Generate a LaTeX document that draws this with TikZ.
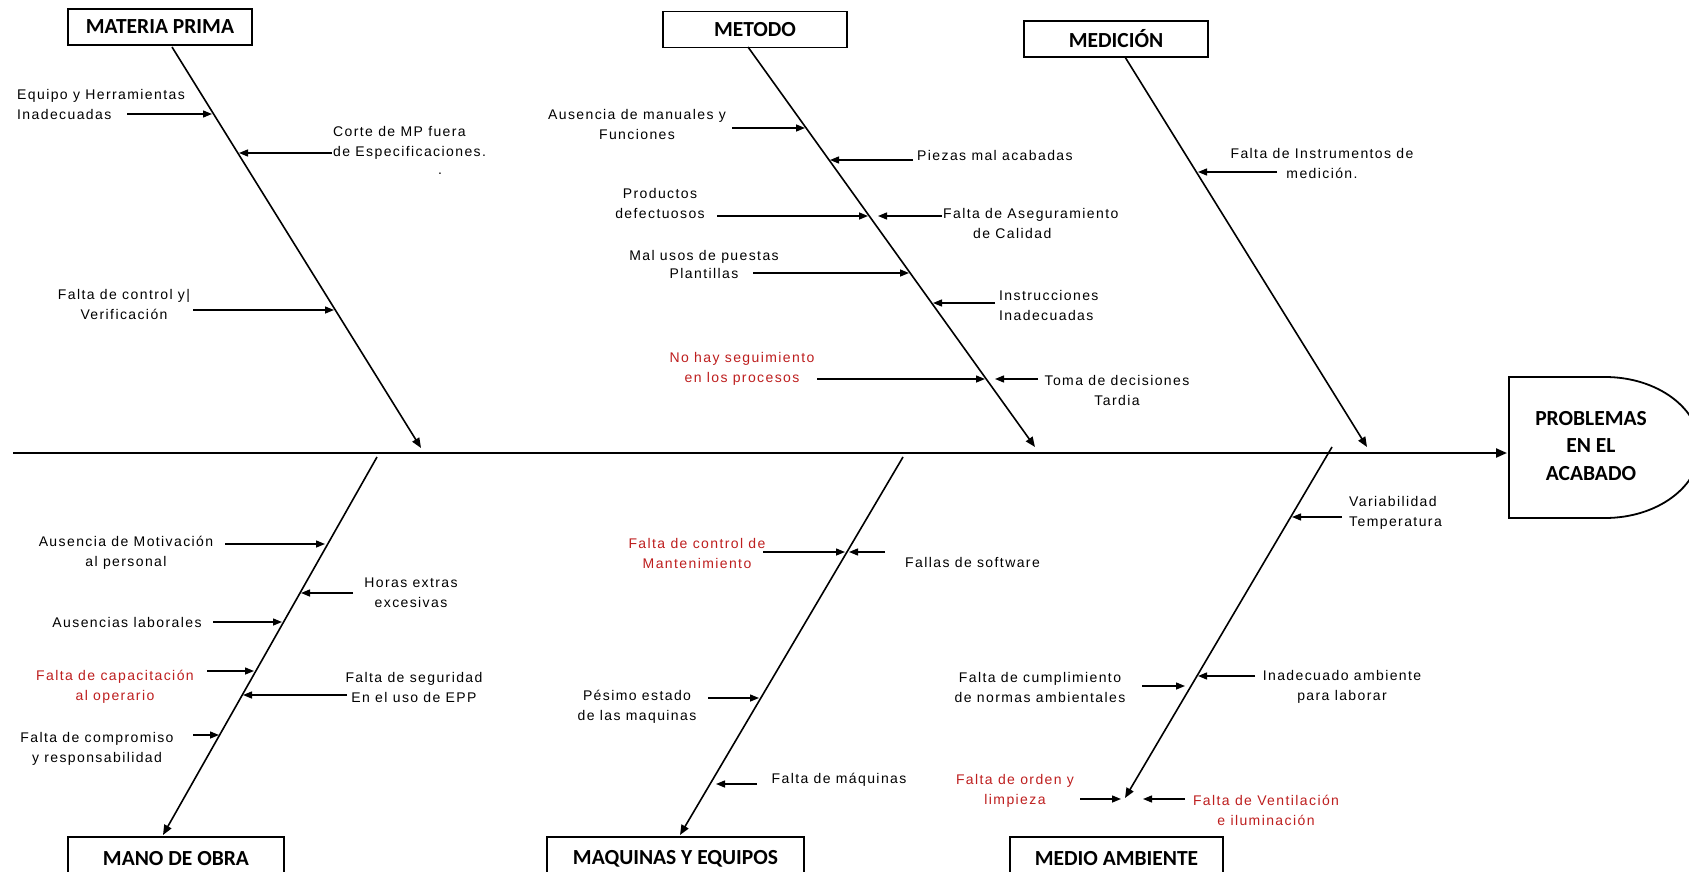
\documentclass[tikz,border=0pt]{standalone}
\usepackage{fontspec}
\usetikzlibrary{arrows.meta}
\newfontfamily\lblfont[LetterSpace=10]{Liberation Sans}
\newfontfamily\ttlfont{Carlito}
\definecolor{causered}{RGB}{190,30,30}
\begin{document}
\begin{tikzpicture}[x=1pt,y=-1pt,
  lbl/.style={font=\lblfont\fontsize{14}{20}\selectfont, inner sep=0pt, align=center},
  redlbl/.style={lbl, text=causered},
  cat/.style={draw, line width=1.8pt, font=\ttlfont\bfseries\fontsize{21.5}{26}\selectfont,
              minimum width=184pt, minimum height=36pt, inner sep=0pt},
  catlow/.style={cat, minimum height=43pt},
  bone/.style={line width=1.6pt, -{Triangle[length=10pt,width=8pt]}},
  cause/.style={line width=1.4pt, -{Triangle[length=9pt,width=7pt]}},
  spine/.style={line width=2.2pt, -{Triangle[length=11pt,width=9pt]}}]
\useasboundingbox[fill=white] (0,0) rectangle (1689,872);

% ---------- effect ----------
\draw[line width=1.8pt] (1509,377) -- (1605,377)
  arc[start angle=90,end angle=-90,x radius=95pt,y radius=70.5pt] -- (1509,518) -- cycle;
\node[font=\ttlfont\bfseries\fontsize{21.5}{27.5}\selectfont, align=center, inner sep=0pt]
  (eff) at (1591,446) {PROBLEMAS\\EN EL\\ACABADO};
\coordinate (sp0) at (13,453);
\coordinate (sp1) at (1507,453);
\draw[spine] (sp0) -- (sp1);

% ---------- category boxes ----------
\node[cat] (mp)  at (160,27)   {MATERIA PRIMA};
\node[cat] (met) at (755,29.5) {METODO};
\node[cat] (med) at (1116,39)  {MEDICIÓN};
\node[catlow, minimum width=216pt] (mo)  at (176,858.5)    {MANO DE OBRA};
\node[catlow, minimum width=257pt] (maq) at (675.5,858.5)  {MAQUINAS Y EQUIPOS};
\node[catlow, minimum width=213pt] (ma)  at (1116.5,858.5) {MEDIO AMBIENTE};

% ---------- bones ----------
\coordinate (mpA) at (172,47);   \coordinate (mpZ) at (421,448);
\coordinate (meA) at (748,47);   \coordinate (meZ) at (1035,447);
\coordinate (mdA) at (1125,57);  \coordinate (mdZ) at (1367,447);
\coordinate (moA) at (377,457);  \coordinate (moZ) at (163,835);
\coordinate (mqA) at (903,457);  \coordinate (mqZ) at (680,835);
\coordinate (maA) at (1332,447); \coordinate (maZ) at (1125,798);
\draw[bone] (mpA) -- (mpZ);
\draw[bone] (meA) -- (meZ);
\draw[bone] (mdA) -- (mdZ);
\draw[bone] (moA) -- (moZ);
\draw[bone] (mqA) -- (mqZ);
\draw[bone] (maA) -- (maZ);

% ---------- MATERIA PRIMA ----------
\node[lbl, align=left, anchor=west] (c11) at (17,104) {Equipo y Herramientas\\Inadecuadas};
\node[lbl, align=left, anchor=west] (c12) at (333,143) {Corte de MP fuera\\de Especificaciones.};
\node[lbl, anchor=base] (c12d) at (440,175) {.};
\node[lbl] (c13) at (124,304) {Falta de control y|\\Verificación};
\coordinate (c11s) at (127,114); \coordinate (c11e) at (212,114);
\coordinate (c12s) at (332,153); \coordinate (c12e) at (239,153);
\coordinate (c13s) at (193,310); \coordinate (c13e) at (334,310);
\draw[cause] (c11s) -- (c11e);
\draw[cause] (c12s) -- (c12e);
\draw[cause] (c13s) -- (c13e);

% ---------- METODO ----------
\node[lbl] (c21) at (637,124) {Ausencia de manuales y\\Funciones};
\node[lbl, anchor=west] (c22) at (917,155) {Piezas mal acabadas};
\node[lbl] (c23) at (660,203) {Productos\\defectuosos};
\node[lbl, align=left, anchor=west] (c24) at (943,223) {Falta de Aseguramiento\\\hspace*{30pt}de Calidad};
\node[lbl] (c25) at (704,264) {Mal usos de puestas\\[-2pt]Plantillas};
\node[lbl, align=left, anchor=west] (c26) at (999,305) {Instrucciones\\Inadecuadas};
\node[redlbl] (c27) at (742,369) {No hay seguimiento\\en los procesos};
\node[lbl] (c28) at (1117,390) {Toma de decisiones\\Tardia};
\coordinate (c21s) at (732,128);  \coordinate (c21e) at (805,128);
\coordinate (c22s) at (913,160);  \coordinate (c22e) at (830,160);
\coordinate (c23s) at (717,216);  \coordinate (c23e) at (868,216);
\coordinate (c24s) at (942,216);  \coordinate (c24e) at (878,216);
\coordinate (c25s) at (753,273);  \coordinate (c25e) at (909,273);
\coordinate (c26s) at (995,303);  \coordinate (c26e) at (933,303);
\coordinate (c27s) at (817,379);  \coordinate (c27e) at (985,379);
\coordinate (c28s) at (1038,379); \coordinate (c28e) at (995,379);
\foreach \c in {c21,c22,c23,c24,c25,c26,c27,c28}
  \draw[cause] (\c s) -- (\c e);

% ---------- MEDICION ----------
\node[lbl] (c31) at (1322,163) {Falta de Instrumentos de\\medición.};
\coordinate (c31s) at (1277,172); \coordinate (c31e) at (1198,172);
\draw[cause] (c31s) -- (c31e);

% ---------- MANO DE OBRA ----------
\node[lbl] (c41) at (126,553) {Ausencia de Motivación\\al personal};
\node[lbl] (c42) at (411,593) {Horas extras\\excesivas};
\node[lbl] (c43) at (127,622) {Ausencias laborales};
\node[redlbl] (c44) at (115,687) {Falta de capacitación\\al operario};
\node[lbl] (c45) at (414,687) {Falta de seguridad\\En el uso de EPP};
\node[lbl] (c46) at (97,749) {Falta de compromiso\\y responsabilidad};
\coordinate (c41s) at (225,544); \coordinate (c41e) at (325,544);
\coordinate (c42s) at (353,593); \coordinate (c42e) at (301,593);
\coordinate (c43s) at (213,622); \coordinate (c43e) at (282,622);
\coordinate (c44s) at (207,671); \coordinate (c44e) at (254,671);
\coordinate (c45s) at (347,695); \coordinate (c45e) at (243,695);
\coordinate (c46s) at (193,735); \coordinate (c46e) at (219,735);
\foreach \c in {c41,c42,c43,c44,c45,c46}
  \draw[cause] (\c s) -- (\c e);

% ---------- MAQUINAS Y EQUIPOS ----------
\node[redlbl] (c51) at (697,553) {Falta de control de\\Mantenimiento};
\node[lbl, anchor=west] (c52) at (905,562) {Fallas de software};
\node[lbl] (c53) at (637,707) {Pésimo estado\\de las maquinas};
\node[lbl] (c54) at (839,780) {Falta de máquinas};
\coordinate (c51s) at (763,552); \coordinate (c51e) at (845,552);
\coordinate (c52s) at (885,552); \coordinate (c52e) at (849,552);
\coordinate (c53s) at (708,698); \coordinate (c53e) at (759,698);
\coordinate (c54s) at (757,784); \coordinate (c54e) at (716,784);
\foreach \c in {c51,c52,c53,c54}
  \draw[cause] (\c s) -- (\c e);

% ---------- MEDIO AMBIENTE ----------
\node[lbl, align=left, anchor=west] (c61) at (1349,513) {Variabilidad\\Temperatura};
\node[lbl] (c62) at (1040,687) {Falta de cumplimiento\\de normas ambientales};
\node[lbl] (c63) at (1342,687) {Inadecuado ambiente\\para laborar};
\node[redlbl] (c64) at (1015,791) {Falta de orden y\\limpieza};
\node[redlbl] (c65) at (1266,810) {Falta de Ventilación\\e iluminación};
\coordinate (c61s) at (1342,517); \coordinate (c61e) at (1292,517);
\coordinate (c62s) at (1142,686); \coordinate (c62e) at (1185,686);
\coordinate (c63s) at (1255,676); \coordinate (c63e) at (1198,676);
\coordinate (c64s) at (1080,799); \coordinate (c64e) at (1121,799);
\coordinate (c65s) at (1185,799); \coordinate (c65e) at (1143,799);
\foreach \c in {c61,c62,c63,c64,c65}
  \draw[cause] (\c s) -- (\c e);
\end{tikzpicture}
\end{document}
